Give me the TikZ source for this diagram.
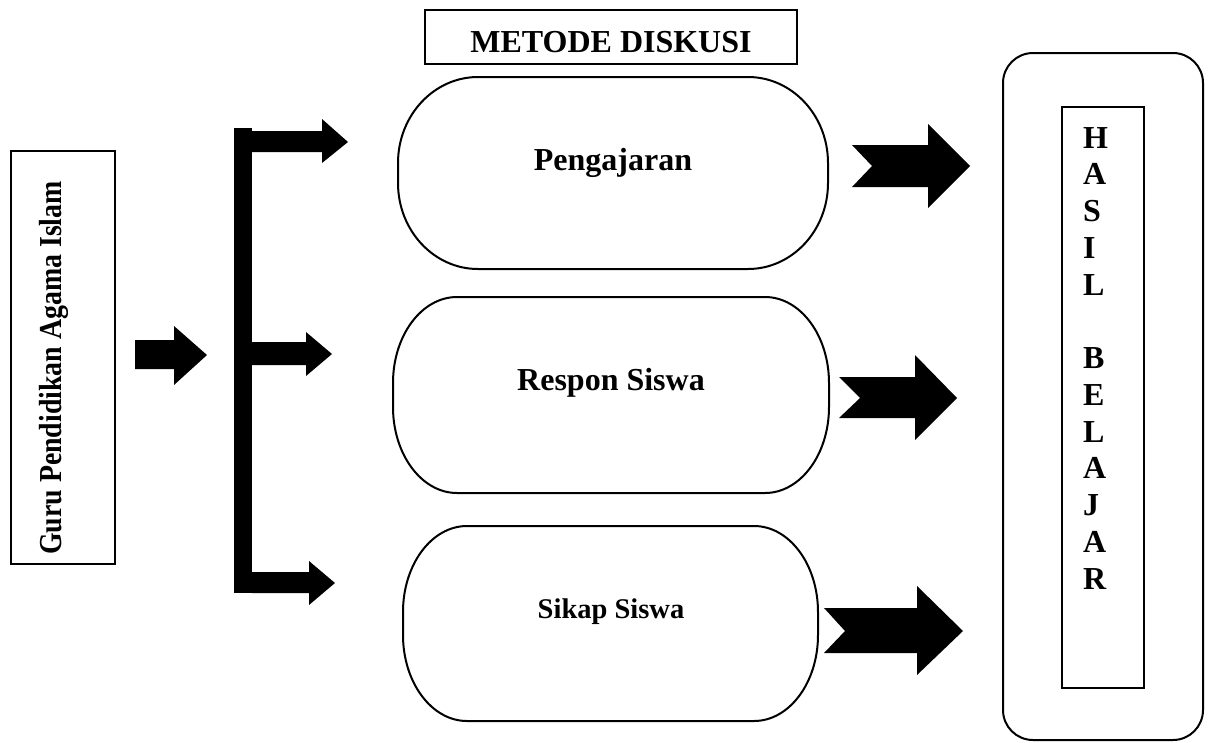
\documentclass[tikz,border=0pt]{standalone}
\usepackage{fontspec}
\setmainfont{Liberation Serif}
\newcommand\stadiumshape[6]{%
  \draw[stadline] ({#1+#5},#2) -- ({#3-#5},#2)
    arc[start angle=90,end angle=0,x radius=#5pt,y radius=#6pt]
    -- (#3,{#4+#6})
    arc[start angle=0,end angle=-90,x radius=#5pt,y radius=#6pt]
    -- ({#1+#5},#4)
    arc[start angle=270,end angle=180,x radius=#5pt,y radius=#6pt]
    -- (#1,{#2-#6})
    arc[start angle=180,end angle=90,x radius=#5pt,y radius=#6pt]
    -- cycle;}
\begin{document}
\begin{tikzpicture}[x=1pt,y=1pt,
  thinbox/.style={draw=black, line width=1.3pt, inner sep=0pt, outer sep=0pt},
  stadline/.style={draw=black, line width=2pt},
  lbl/.style={font=\bfseries\fontsize{32}{38}\selectfont, inner sep=0pt},
  lblsmall/.style={font=\bfseries\fontsize{28.5}{34}\selectfont, inner sep=0pt},
  blk/.style={fill=black, draw=none}]
\useasboundingbox (0,0) rectangle (1208,-742);

% left box
\node[thinbox, line width=1.5pt, minimum width=104pt, minimum height=413pt] (guru) at (63,-357.5) {};
\node[lbl, rotate=90, anchor=base west] (gurutext) at (61,-555) {\scalebox{0.87}[1]{Guru Pendidikan Agama Islam}};

% small arrow
\fill[blk] (135,-340) -- (174,-340) -- (174,-326) -- (207,-355) -- (174,-385) -- (174,-369) -- (135,-369) -- cycle;

% bracket
\fill[blk] (234,-128) rectangle (252,-593);
\fill[blk] (252,-131) -- (322,-131) -- (322,-119) -- (348,-142) -- (322,-163) -- (322,-152) -- (252,-152) -- cycle;
\fill[blk] (252,-342) -- (306,-342) -- (306,-332) -- (332,-354) -- (306,-376) -- (306,-365) -- (252,-365) -- cycle;
\fill[blk] (252,-572) -- (309,-572) -- (309,-561) -- (335,-583) -- (309,-605) -- (309,-593) -- (252,-593) -- cycle;

% METODE DISKUSI
\node[thinbox, minimum width=372pt, minimum height=54pt] (metode) at (611,-37) {};
\node[lbl, anchor=base] (metodetext) at (611,-52) {METODE DISKUSI};

% stadium boxes
\stadiumshape{398}{-77}{828}{-269}{80}{86}
\node[lbl, anchor=base] (peng) at (613,-170) {Pengajaran};
\stadiumshape{393}{-297}{829}{-493}{64}{86}
\node[lbl, anchor=base] (respon) at (611,-390) {Respon Siswa};
\stadiumshape{403}{-526}{818}{-721}{64}{86}
\node[lblsmall, anchor=base] (sikap) at (611,-618) {Sikap Siswa};

% notched arrows
\fill[blk] (852,-145) -- (928,-145) -- (928,-124) -- (970,-166) -- (928,-208) -- (928,-187) -- (852,-187) -- (872,-166) -- cycle;
\fill[blk] (839,-377) -- (915,-377) -- (915,-355) -- (957,-398) -- (915,-440) -- (915,-418) -- (839,-418) -- (860,-398) -- cycle;
\fill[blk] (824,-608) -- (917,-608) -- (917,-586) -- (963,-631) -- (917,-675) -- (917,-653) -- (824,-653) -- (845,-631) -- cycle;

% right boxes
\draw[line width=2pt, rounded corners=30pt] (1003,-53) rectangle (1203,-740);
\node[thinbox, line width=1.5pt, minimum width=82pt, minimum height=581pt] (hasil) at (1103,-397.5) {};
\foreach \l [count=\i from 0] in {H,A,S,I,L,,B,E,L,A,J,A,R}
  \node[lbl, anchor=base west] (h\i) at (1083,{-148-36.75*\i}) {\l};
\end{tikzpicture}
\end{document}
